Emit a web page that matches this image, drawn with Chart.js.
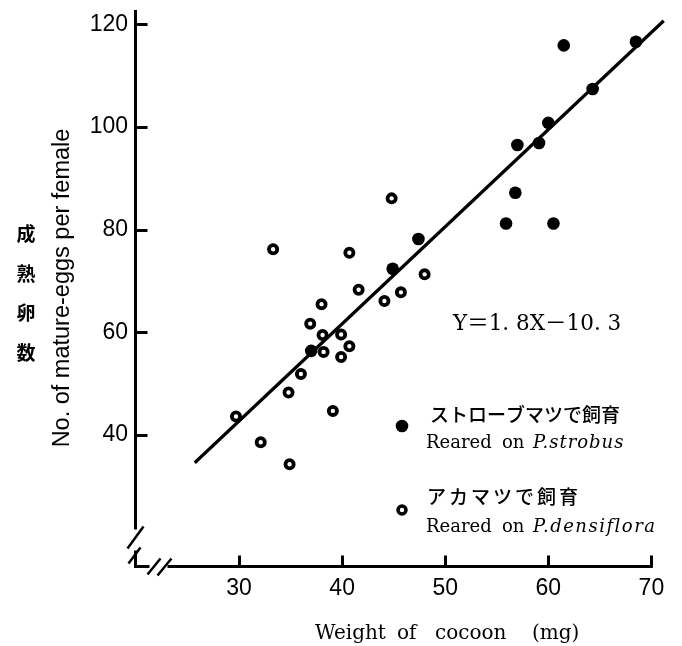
<!DOCTYPE html>
<html>
<head>
<meta charset="utf-8">
<script src="https://cdn.jsdelivr.net/npm/chart.js@4.4.0/dist/chart.umd.min.js"></script>
<style>
  html, body { margin: 0; padding: 0; background: #fff; }
  #wrap { width: 682px; height: 646px; }
</style>
</head>
<body>
<div id="wrap"><canvas id="myChart" width="682" height="646"></canvas></div>
<script>
var xTicks = [30, 40, 50, 60, 70];
var yTicks = [40, 60, 80, 100, 120];

// Reared on P.strobus (filled dots)
var strobusX = [61.5, 68.5, 64.3, 60.0, 59.1, 57.0, 56.8, 55.9, 60.5, 47.4, 44.9, 37.0];
var strobusY = [115.9, 116.6, 107.4, 100.8, 96.9, 96.5, 87.2, 81.2, 81.2, 78.2, 72.4, 56.4];

// Reared on P.densiflora (open dots)
var densiX = [44.8, 48.0, 45.7, 40.7, 41.6, 44.1, 38.0, 33.3, 36.9, 38.1, 39.9, 40.7, 38.2, 39.9, 36.0, 34.8, 29.7, 39.1, 32.1, 34.9];
var densiY = [86.1, 71.3, 67.8, 75.5, 68.3, 66.1, 65.5, 76.2, 61.7, 59.5, 59.6, 57.3, 56.2, 55.2, 51.9, 48.3, 43.6, 44.7, 38.6, 34.3];

// regression line as drawn, end to end
var lineX = [25.7, 71.2];
var lineY = [34.6, 120.7];

var equation = 'Y＝1. 8X－10. 3';
var xTitle = ['Weight', 'of', 'cocoon', '(mg)'];
var yTitle = 'No. of mature-eggs per female';
var yTitleJa = ['成', '熟', '卵', '数'];

function toPoints(xs, ys) {
  return xs.map(function(x, i) { return { x: x, y: ys[i] }; });
}

var tickFont = { family: "'Liberation Sans Narrow', 'Liberation Sans', Arial, sans-serif", size: 23 };

var decor = {
  id: 'decor',
  afterDraw: function(chart) {
    var ctx = chart.ctx;
    var ca = chart.chartArea;
    var xs = chart.scales.x;
    var ys = chart.scales.y;
    var L = ca.left - 0.5;
    var B = ca.bottom - 0.5;
    ctx.save();
    ctx.strokeStyle = '#000';
    ctx.fillStyle = '#000';
    ctx.lineWidth = 3;
    ctx.lineCap = 'butt';

    // axes with breaks at the corner
    ctx.beginPath();
    ctx.moveTo(L, 10);
    ctx.lineTo(L, B - 37);
    ctx.moveTo(L, B - 16);
    ctx.lineTo(L, B);
    ctx.lineTo(L + 14, B);
    ctx.moveTo(L + 32, B);
    ctx.lineTo(xs.getPixelForValue(70) + 1.5, B);
    ctx.stroke();

    ctx.lineWidth = 2.5;
    ctx.beginPath();
    ctx.moveTo(L - 8, B - 18);
    ctx.lineTo(L + 8, B - 40);
    ctx.moveTo(L - 7, B - 3);
    ctx.lineTo(L + 5, B - 19);
    ctx.moveTo(L + 12, B + 8);
    ctx.lineTo(L + 25, B - 8);
    ctx.moveTo(L + 22, B + 9);
    ctx.lineTo(L + 36, B - 8);
    ctx.stroke();

    // inward tick marks
    ctx.lineWidth = 3;
    ctx.beginPath();
    xTicks.forEach(function(v) {
      var px = Math.round(xs.getPixelForValue(v)) + 0.5;
      ctx.moveTo(px, B);
      ctx.lineTo(px, B - 11);
    });
    yTicks.forEach(function(v) {
      var py = Math.round(ys.getPixelForValue(v)) + 0.5;
      ctx.moveTo(L, py);
      ctx.lineTo(L + 12, py);
    });
    ctx.stroke();

    // x title
    ctx.font = "20px 'DejaVu Serif', serif";
    ctx.textBaseline = 'alphabetic';
    ctx.textAlign = 'left';
    var xPos = [315, 397, 435, 532];
    xTitle.forEach(function(w, i) { ctx.fillText(w, xPos[i], 639); });

    // y title
    ctx.save();
    ctx.translate(63, 288);
    ctx.rotate(-Math.PI / 2);
    ctx.font = "23.5px 'Liberation Sans', Arial, sans-serif";
    ctx.textAlign = 'center';
    ctx.textBaseline = 'middle';
    ctx.fillText(yTitle, 0, 0);
    ctx.restore();

    ctx.font = "bold 19px 'Noto Sans CJK JP', sans-serif";
    ctx.textAlign = 'center';
    ctx.textBaseline = 'middle';
    yTitleJa.forEach(function(c, i) { ctx.fillText(c, 26, 234 + i * 39.5); });

    // equation
    ctx.font = "21.5px 'DejaVu Serif', 'Noto Sans CJK JP', serif";
    ctx.textAlign = 'left';
    ctx.fillText(equation, 453, 324);

    // legend
    ctx.beginPath();
    ctx.arc(402, 426, 6.3, 0, Math.PI * 2);
    ctx.fill();
    ctx.beginPath();
    ctx.lineWidth = 3.5;
    ctx.arc(402, 510, 4, 0, Math.PI * 2);
    ctx.stroke();

    ctx.font = "500 19px 'Noto Sans CJK JP', sans-serif";
    ctx.fillText('ストローブマツで飼育', 430, 415);
    ctx.letterSpacing = '3px';
    ctx.fillText('アカマツで飼育', 427, 497);
    ctx.letterSpacing = '0px';

    ctx.textBaseline = 'alphabetic';
    ctx.font = "18px 'DejaVu Serif', serif";
    ctx.fillText('Reared', 426, 448);
    ctx.fillText('on', 502, 448);
    ctx.fillText('Reared', 426, 532);
    ctx.fillText('on', 502, 532);
    ctx.font = "italic 18px 'DejaVu Serif', serif";
    ctx.letterSpacing = '1px';
    ctx.fillText('P.strobus', 533, 448);
    ctx.letterSpacing = '1.5px';
    ctx.fillText('P.densiflora', 533, 532);
    ctx.letterSpacing = '0px';
    ctx.restore();
  }
};

var ctx = document.getElementById('myChart').getContext('2d');

var myChart = new Chart(ctx, {
  type: 'scatter',
  data: {
    datasets: [
      {
        label: 'Reared on P.strobus',
        data: toPoints(strobusX, strobusY),
        backgroundColor: '#000',
        borderWidth: 0,
        pointRadius: 6.3,
        order: 1
      },
      {
        label: 'Reared on P.densiflora',
        data: toPoints(densiX, densiY),
        backgroundColor: '#fff',
        borderColor: '#000',
        borderWidth: 3.8,
        pointRadius: 4.1,
        order: 2
      },
      {
        label: 'Y=1.8X-10.3',
        type: 'line',
        data: toPoints(lineX, lineY),
        borderColor: '#000',
        borderWidth: 3.2,
        pointRadius: 0,
        fill: false,
        order: 3
      }
    ]
  },
  options: {
    responsive: false,
    animation: false,
    events: [],
    layout: { padding: { top: 7.5, right: 10, left: 0, bottom: 0 } },
    plugins: {
      legend: { display: false },
      tooltip: { enabled: false }
    },
    scales: {
      x: {
        type: 'linear',
        min: 20,
        max: 72,
        afterFit: function(scale) {
          scale.height = 79;
          scale.paddingLeft = 0;
          scale.paddingRight = 0;
        },
        afterBuildTicks: function(scale) {
          scale.ticks = xTicks.map(function(v) { return { value: v }; });
        },
        grid: { display: false, drawTicks: false },
        border: { display: false },
        ticks: { color: '#000', font: tickFont, padding: 8, maxRotation: 0 }
      },
      y: {
        type: 'linear',
        min: 14.3,
        max: 123.2,
        afterFit: function(scale) {
          scale.width = 136;
          scale.paddingTop = 0;
          scale.paddingBottom = 0;
        },
        afterBuildTicks: function(scale) {
          scale.ticks = yTicks.map(function(v) { return { value: v }; });
        },
        grid: { display: false, drawTicks: false },
        border: { display: false },
        ticks: { color: '#000', font: tickFont, padding: 8 }
      }
    }
  },
  plugins: [decor]
});
</script>
</body>
</html>
